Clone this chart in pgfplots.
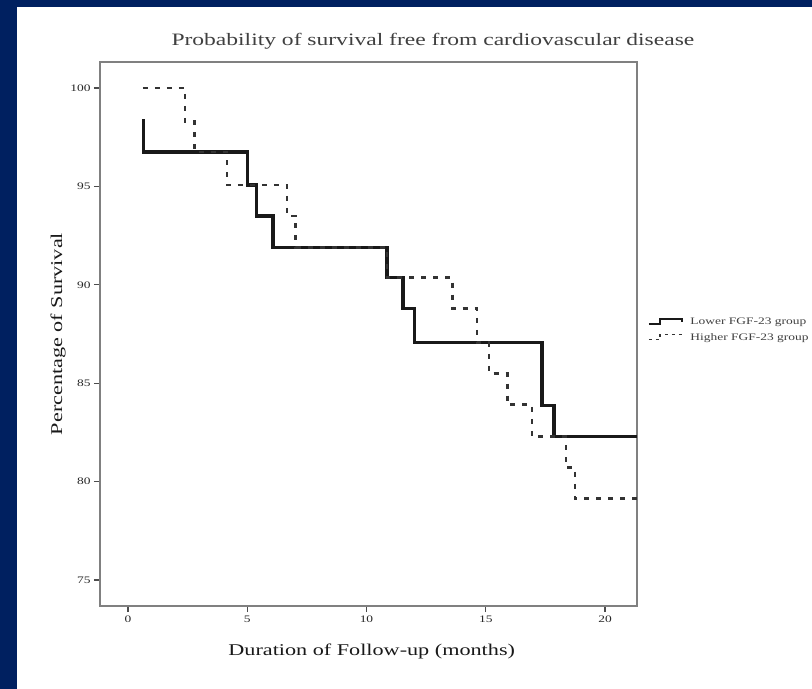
\documentclass[border=0pt]{standalone}
\usepackage{fontspec}
\setmainfont[FakeStretch=1.35]{Liberation Serif}
\usepackage{pgfplots}
\pgfplotsset{compat=1.18}
\definecolor{navy}{RGB}{0,32,96}
\definecolor{framegray}{RGB}{128,128,128}
\definecolor{txt}{RGB}{40,40,40}
\begin{document}
\begin{tikzpicture}
\useasboundingbox (0,0) rectangle (812bp,689bp);
\fill[white] (0,0) rectangle (812bp,689bp);
\fill[navy] (0,0) rectangle (17bp,689bp);
\fill[navy] (0,682bp) rectangle (812bp,689bp);
\begin{axis}[
  at={(100bp,83bp)}, anchor=south west,
  scale only axis, width=537bp, height=544bp,
  xmin=-1.17, xmax=21.34, ymin=73.68, ymax=101.32,
  xtick={0,5,10,15,20}, ytick={75,80,85,90,95,100},
  tick pos=left, tick align=outside,
  major tick length=6bp,
  axis line style={framegray, line width=2.8bp},
  every tick/.style={black!70, line width=1.3bp},
  /pgf/number format/assume math mode=true,
  ticklabel style={font=\fontsize{10}{11}\selectfont, text=txt},
  title={Probability of survival free from cardiovascular disease},
  title style={at={(axis description cs:0.62,1.0276)}, anchor=center, font=\fontsize{17.5}{19}\selectfont, text=black!75},
  xlabel={Duration of Follow-up (months)},
  xlabel style={at={(axis description cs:0.506,-0.083)}, anchor=center, font=\fontsize{16.5}{18}\selectfont, text=black!90},
  ylabel={Percentage of Survival},
  ylabel style={at={(axis description cs:-0.078,0.5)}, anchor=center, font=\fontsize{16.5}{18}\selectfont, text=black!90},
  legend style={at={(axis description cs:1.02,0.532)}, anchor=north west, draw=none, fill=none,
    font=\fontsize{10}{11}\selectfont, text=black!75, row sep=4bp, inner sep=0pt,
    nodes={inner sep=1.5bp},
    /tikz/every odd column/.append style={column sep=6bp}},
  legend cell align=left,
]
\addplot[const plot, black!90, line width=3.2bp, legend image code/.code={
    \draw[black!90, line width=2bp] (0bp,-2bp) -- (11bp,-2bp) -- (11bp,3bp) -- (33bp,3bp) -- (33bp,0bp);}]
  coordinates {(0.67,98.4) (0.67,96.75) (5.0,95.07) (5.4,93.5) (6.08,91.9)
   (10.86,90.36) (11.53,88.8) (12.0,87.06) (17.36,83.86) (17.86,82.28) (21.34,82.28)};
\addlegendentry{Lower FGF-23 group}
\addplot[const plot, black!80, line width=2.8bp, dash pattern=on 5bp off 7bp, legend image code/.code={
    \draw[black!80, line width=1.8bp, dash pattern=on 3bp off 4bp] (0bp,-2bp) -- (11bp,-2bp) -- (11bp,3bp) -- (33bp,3bp) -- (33bp,0bp);}]
  coordinates {(0.63,100) (2.39,98.3) (2.8,96.75) (4.15,95.07) (6.67,93.5) (7.04,91.9)
   (10.86,90.36) (13.6,88.8) (14.63,87.06) (15.14,85.5) (15.9,83.9) (16.94,82.28)
   (18.36,80.7) (18.74,79.14) (21.34,79.14)};
\addlegendentry{Higher FGF-23 group}
\end{axis}
\end{tikzpicture}
\end{document}
